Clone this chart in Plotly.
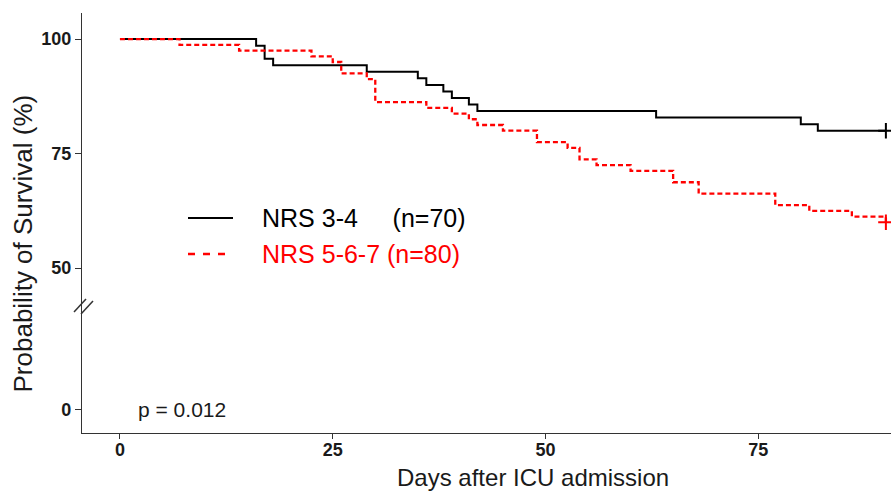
import plotly.graph_objects as go

# Kaplan-Meier steps
black_time = [0, 16, 17, 18, 29, 35, 36, 38, 39, 41, 42, 63, 80, 82, 90]
black_surv = [100, 98.57, 95.71, 94.29, 92.86, 91.43, 90.0, 88.57, 87.14, 85.71,
              84.29, 82.86, 81.43, 80.0, 80.0]
red_time = [0, 7, 14, 22.5, 25, 26, 29, 30, 36, 39, 41, 42, 45, 49, 52.6, 54, 56,
            60, 65, 68, 77, 81, 86, 90]
red_surv = [100, 98.75, 97.5, 96.25, 95.0, 92.5, 91.25, 86.25, 85.0, 83.75, 82.5,
            81.25, 80.0, 77.5, 76.25, 73.75, 72.5, 71.25, 68.75, 66.25, 63.75,
            62.5, 61.25, 60.0]

group_names = ["NRS 3-4", "NRS 5-6-7"]
group_n = ["(n=70)", "(n=80)"]
p_text = "p = 0.012"

x_ticks = [0, 25, 50, 75]
y_tick_labels = ["0", "50", "75", "100"]
zero_pos = 19.1  # broken axis: where "0" sits on the compressed scale
y_tick_vals = [zero_pos, 50, 75, 100]

fig = go.Figure()
fig.add_trace(go.Scatter(x=black_time, y=black_surv, mode="lines", line_shape="hv",
                         line=dict(color="black", width=2), showlegend=False))
fig.add_trace(go.Scatter(x=red_time, y=red_surv, mode="lines", line_shape="hv",
                         line=dict(color="#FF0000", width=2.3, dash="5px,3px"),
                         showlegend=False))
fig.add_trace(go.Scatter(x=[black_time[-1]], y=[black_surv[-1]], mode="markers",
                         marker=dict(symbol="cross-thin", size=11,
                                     line=dict(color="black", width=2)),
                         showlegend=False))
fig.add_trace(go.Scatter(x=[red_time[-1]], y=[red_surv[-1]], mode="markers",
                         marker=dict(symbol="cross-thin", size=11,
                                     line=dict(color="#FF0000", width=2)),
                         showlegend=False))

W, H = 891, 492
ml, mr, mt, mb = 82, 0, 13, 59
pw, ph = W - ml - mr, H - mt - mb


def px(xp):
    return (xp - ml) / pw


def py(yp):
    return (H - mb - yp) / ph


axis_col = "#333333"
tick_font = dict(size=18, color="#1a1a1a", family="Liberation Sans, Arial", weight="bold")
fig.update_layout(
    width=W, height=H, margin=dict(l=ml, r=mr, t=mt, b=mb),
    plot_bgcolor="white", paper_bgcolor="white",
    font=dict(family="Liberation Sans, Arial, sans-serif", color="black"),
    xaxis=dict(range=[-4.46, 90.6], tickvals=x_ticks, showgrid=False, zeroline=False,
               showline=True, linecolor=axis_col, linewidth=1.3,
               ticks="outside", ticklen=5, tickcolor=axis_col, tickwidth=1.3,
               tickfont=tick_font, ticklabelstandoff=-5),
    yaxis=dict(range=[14.0, 105.7], tickvals=y_tick_vals, ticktext=y_tick_labels,
               showgrid=False, zeroline=False,
               showline=True, linecolor=axis_col, linewidth=1.3,
               ticks="outside", ticklen=6, tickcolor=axis_col, tickwidth=1.3,
               tickfont=tick_font, ticklabelstandoff=0),
)

annotations = [
    dict(text="Days after ICU admission", x=px(533), y=py(477), xref="paper", yref="paper",
         xanchor="center", yanchor="middle", showarrow=False,
         font=dict(size=24, color="#1a1a1a")),
    dict(text="Probability of Survival (%)", x=px(22), y=py(243.5), xref="paper",
         yref="paper", xanchor="center", yanchor="middle", textangle=-90,
         showarrow=False, font=dict(size=26, color="#1a1a1a")),
    dict(text=p_text, x=1.9, y=zero_pos, xref="x", yref="y", xanchor="left",
         yanchor="middle", showarrow=False, font=dict(size=21, color="#1a1a1a")),
    dict(text=group_names[0] + "&nbsp;&nbsp;&nbsp;&nbsp;&nbsp;" + group_n[0],
         x=px(260), y=py(218), xref="paper", yref="paper", xanchor="left",
         yanchor="middle", showarrow=False, font=dict(size=25, color="black")),
    dict(text=group_names[1] + " " + group_n[1],
         x=px(260), y=py(254), xref="paper", yref="paper", xanchor="left",
         yanchor="middle", showarrow=False, font=dict(size=25, color="#FF0000")),
]
fig.update_layout(annotations=annotations)

shapes = [
    dict(type="line", xref="paper", yref="paper", x0=px(188), x1=px(233),
         y0=py(218), y1=py(218), line=dict(color="black", width=2)),
    dict(type="line", xref="paper", yref="paper", x0=px(188), x1=px(233),
         y0=py(254), y1=py(254), line=dict(color="#FF0000", width=2.3, dash="7px,8px")),
    # axis break marks
    dict(type="line", xref="paper", yref="paper", x0=px(74), y0=py(312), x1=px(86),
         y1=py(299), line=dict(color=axis_col, width=1.5)),
    dict(type="line", xref="paper", yref="paper", x0=px(81), y0=py(314), x1=px(93),
         y1=py(301), line=dict(color=axis_col, width=1.5)),
]
fig.update_layout(shapes=shapes)

fig.write_html("out.html")
